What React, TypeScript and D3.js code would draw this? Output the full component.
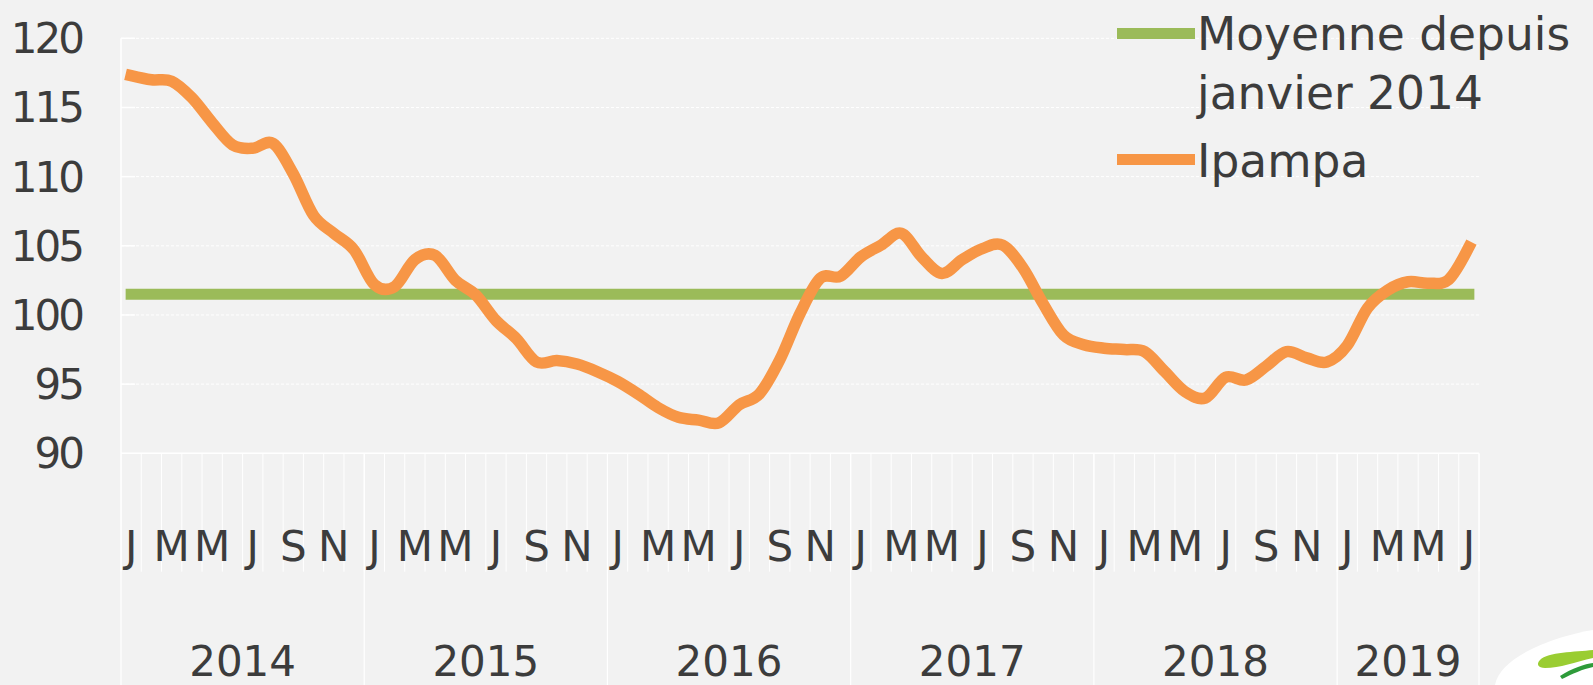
import React from "react";
import * as d3 from "d3";

const WIDTH = 1593;
const HEIGHT = 685;

// Monthly Ipampa index, Jan 2014 .. Jul 2019
const ipampa: number[] = [
  117.3, 117.0, 116.9, 115.7, 113.9, 112.3, 112.05, 112.4, 110.2, 107.2, 105.9, 104.7,
  102.2, 102.05, 104.0, 104.3, 102.5, 101.45, 99.6, 98.3, 96.6, 96.7, 96.45, 95.9,
  95.2, 94.3, 93.3, 92.6, 92.4, 92.2, 93.5, 94.3, 96.75, 100.1, 102.65, 102.8,
  104.2, 105.05, 105.9, 104.2, 103.0, 104.0, 104.8, 105.05, 103.4, 100.8, 98.55, 97.85,
  97.6, 97.5, 97.35, 95.9, 94.45, 94.0, 95.5, 95.3, 96.3, 97.35, 96.9, 96.6,
  97.8, 100.5, 101.8, 102.4, 102.3, 102.55, 104.9,
];
const moyenne = 101.5;

const years: string[] = ["2014", "2015", "2016", "2017", "2018", "2019"];
const monthsPerYear: number[] = [12, 12, 12, 12, 12, 7];
const monthLetters: string[] = ["J", "F", "M", "A", "M", "J", "J", "A", "S", "O", "N", "D"];
const yTicks: number[] = [90, 95, 100, 105, 110, 115, 120];
const legendLabels: string[][] = [["Moyenne depuis", "janvier 2014"], ["Ipampa"]];

const GREEN = "#9BBB59";
const ORANGE = "#F79646";
const TEXT = "#3c3c3c";
const FONT = "'DejaVu Sans', sans-serif";

export default function App() {
  const left = 121;
  const right = 1479;
  const top = 38.3;
  const bottom = 453.3;

  const idx = d3.range(ipampa.length);
  const x = d3.scaleBand<number>().domain(idx).range([left, right]).padding(0);
  const bw = x.bandwidth();
  const cx = (i: number) => (x(i) as number) + bw / 2;
  const y = d3.scaleLinear().domain([90, 120]).range([bottom, top]);

  const line = d3
    .line<number>()
    .x((_, i) => cx(i))
    .y((d) => y(d))
    .curve(d3.curveCardinal.tension(0));

  const avgLine = d3
    .line<number>()
    .x((_, i) => cx(i))
    .y(() => y(moyenne));

  const yearStarts: number[] = [];
  let acc = 0;
  monthsPerYear.forEach((n) => {
    yearStarts.push(acc);
    acc += n;
  });

  const monthTickY2 = 571.7;

  return (
    <svg
      width={WIDTH}
      height={HEIGHT}
      style={{ position: "absolute", left: 0, top: 0, display: "block" }}
    >
      <rect x={0} y={0} width={WIDTH} height={HEIGHT} fill="#F2F2F2" />

      {/* gridlines */}
      {yTicks.slice(1).map((t) => (
        <g key={"g" + t}>
          <line
            x1={left}
            x2={right}
            y1={y(t)}
            y2={y(t)}
            stroke="#ffffff"
            strokeWidth={1}
            strokeDasharray="3 2"
          />
          <line x1={left} x2={left + 14} y1={y(t)} y2={y(t)} stroke="#ffffff" strokeWidth={1.5} />
        </g>
      ))}

      <line x1={left} x2={left} y1={top} y2={bottom} stroke="#ffffff" strokeWidth={1.5} />
      <line x1={left} x2={right} y1={bottom} y2={bottom} stroke="#ffffff" strokeWidth={1.5} />

      {/* month ticks */}
      {d3.range(ipampa.length + 1).map((i) => {
        const xp = i < ipampa.length ? (x(i) as number) : right;
        return (
          <line
            key={"mt" + i}
            x1={xp}
            x2={xp}
            y1={bottom}
            y2={monthTickY2}
            stroke="#ffffff"
            strokeWidth={1}
          />
        );
      })}

      {/* year separators */}
      {[...yearStarts, ipampa.length].map((s, k) => {
        const xp = s < ipampa.length ? (x(s) as number) : right;
        return (
          <line
            key={"ys" + k}
            x1={xp}
            x2={xp}
            y1={bottom}
            y2={HEIGHT}
            stroke="#ffffff"
            strokeWidth={1.2}
          />
        );
      })}

      {/* y tick labels */}
      {yTicks.map((t) => (
        <text
          key={"yl" + t}
          x={82}
          y={y(t) + 15}
          textAnchor="end"
          fontFamily={FONT}
          fontSize={42}
          letterSpacing={-3}
          fill={TEXT}
        >
          {t}
        </text>
      ))}

      {/* month labels */}
      {idx.map((i) => {
        const m = i % 12;
        if (m % 2 !== 0) return null;
        return (
          <text
            key={"ml" + i}
            x={cx(i)}
            y={561}
            textAnchor="middle"
            fontFamily={FONT}
            fontSize={42}
            fill={TEXT}
          >
            {monthLetters[m]}
          </text>
        );
      })}

      {/* year labels */}
      {years.map((yr, k) => {
        const s = yearStarts[k];
        const e = s + monthsPerYear[k] - 1;
        const xm = ((x(s) as number) + (x(e) as number) + bw) / 2;
        return (
          <text
            key={"yr" + yr}
            x={xm}
            y={676}
            textAnchor="middle"
            fontFamily={FONT}
            fontSize={42}
            fill={TEXT}
          >
            {yr}
          </text>
        );
      })}

      {/* average line */}
      <path
        d={avgLine(ipampa) || ""}
        fill="none"
        stroke={GREEN}
        strokeWidth={11}
        strokeLinecap="square"
      />

      {/* ipampa line */}
      <path
        d={line(ipampa) || ""}
        fill="none"
        stroke={ORANGE}
        strokeWidth={11.5}
        strokeLinecap="square"
        strokeLinejoin="round"
      />

      {/* legend */}
      <line x1={1117} x2={1195} y1={33.5} y2={33.5} stroke={GREEN} strokeWidth={11} />
      <text x={1197} y={50} fontFamily={FONT} fontSize={45.5} fill={TEXT}>
        {legendLabels[0][0]}
      </text>
      <text x={1197} y={108.5} fontFamily={FONT} fontSize={45.5} fill={TEXT}>
        {legendLabels[0][1]}
      </text>
      <line x1={1117} x2={1195} y1={159.5} y2={159.5} stroke={ORANGE} strokeWidth={11} />
      <text x={1197} y={176.5} fontFamily={FONT} fontSize={45.5} fill={TEXT}>
        {legendLabels[1][0]}
      </text>

      {/* logo fragment */}
      <path d="M1495,685 C1500,655 1560,635 1593,630 L1593,685 Z" fill="#ffffff" />
      <path
        d="M1540,660 C1548,652 1575,652 1593,650 L1593,658 C1575,662 1560,668 1545,668 C1538,668 1536,664 1540,660 Z"
        fill="#9ACD32"
      />
      <path d="M1560,676 C1572,668 1585,664 1593,663 L1593,667 C1583,669 1572,674 1562,679 Z" fill="#2E9B3A" />
    </svg>
  );
}
